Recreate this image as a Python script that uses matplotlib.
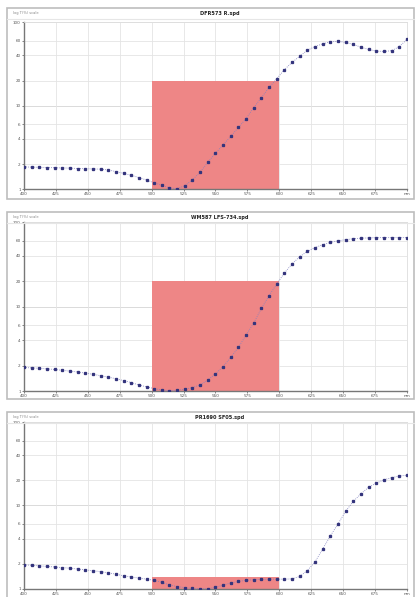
import matplotlib
matplotlib.use("Agg")
from matplotlib import pyplot as plt
from matplotlib.patches import Rectangle

# wavelength samples (nm)
wl = [400, 406, 412, 418, 424, 430, 436, 442, 448, 454,
      460, 466, 472, 478, 484, 490, 496, 502, 508, 514,
      520, 526, 532, 538, 544, 550, 556, 562, 568, 574,
      580, 586, 592, 598, 604, 610, 616, 622, 628, 634,
      640, 646, 652, 658, 664, 670, 676, 682, 688, 694, 700]

spd1 = [1.85, 1.84, 1.83, 1.82, 1.81, 1.80, 1.79, 1.77, 1.76, 1.75,
        1.74, 1.70, 1.63, 1.55, 1.47, 1.38, 1.29, 1.20, 1.11, 1.04,
        1.02, 1.10, 1.30, 1.60, 2.10, 2.70, 3.40, 4.30, 5.50, 7.00,
        9.50, 12.5, 16.5, 21.0, 27.0, 33.0, 39.0, 46.0, 51.0, 55.0,
        58.0, 59.0, 57.0, 54.0, 50.0, 47.0, 45.0, 44.5, 45.5, 51.0, 62.0]

spd2 = [1.90, 1.88, 1.86, 1.83, 1.80, 1.76, 1.72, 1.68, 1.63, 1.58,
        1.52, 1.46, 1.40, 1.33, 1.26, 1.18, 1.12, 1.07, 1.03, 1.01,
        1.02, 1.05, 1.10, 1.18, 1.35, 1.60, 1.95, 2.50, 3.30, 4.60,
        6.40, 9.50, 13.5, 18.5, 25.0, 32.0, 39.0, 45.0, 50.0, 54.0,
        57.5, 60.0, 62.0, 63.5, 64.5, 65.0, 65.5, 65.5, 65.5, 65.5, 65.5]

spd3 = [1.93, 1.91, 1.88, 1.85, 1.82, 1.79, 1.76, 1.72, 1.68, 1.64,
        1.60, 1.55, 1.49, 1.43, 1.38, 1.34, 1.30, 1.26, 1.19, 1.11,
        1.06, 1.03, 1.01, 1.00, 1.00, 1.04, 1.10, 1.17, 1.22, 1.26,
        1.28, 1.29, 1.30, 1.30, 1.30, 1.31, 1.40, 1.65, 2.10, 3.00,
        4.30, 6.00, 8.50, 11.2, 13.8, 16.5, 18.5, 20.3, 21.5, 22.5, 23.0]

titles = ["DFR573 R.spd", "WM587 LFS-734.spd", "PR1690 SF05.spd"]
band = [(500, 600, 20.0), (500, 600, 20.0), (500, 600, 1.38)]

xticks = [400, 425, 450, 475, 500, 525, 550, 575, 600, 625, 650, 675, 700]
xlabels = ["400", "425", "450", "475", "500", "525", "550", "575", "600",
           "625", "650", "675", "nm"]
yticks = [1, 2, 4, 6, 10, 20, 40, 60, 100]
ylabels = ["1", "2", "4", "6", "10", "20", "40", "60", "100"]

fig = plt.figure(figsize=(4.2, 5.97), dpi=100)
fig.patch.set_facecolor("white")

# (axes rect, frame rect, title y)
panels = [
    ([0.057, 0.683, 0.912, 0.280], [0.017, 0.667, 0.969, 0.320], 0.978),
    ([0.057, 0.345, 0.912, 0.283], [0.017, 0.332, 0.969, 0.313], 0.636),
    ([0.057, 0.014, 0.912, 0.279], [0.017, -0.02, 0.969, 0.330], 0.301),
]

for (rect, frame, ty), ys, title, (b0, b1, btop) in zip(panels, [spd1, spd2, spd3], titles, band):
    fig.add_artist(Rectangle(frame[:2], frame[2], frame[3], transform=fig.transFigure,
                             fill=False, ec="#bdbdbd", lw=1.2))
    fig.add_artist(plt.Line2D([frame[0], frame[0] + frame[2]], [ty - 0.009, ty - 0.009],
                              transform=fig.transFigure, color="#e6e6e6", lw=0.8))
    fig.text(0.524, ty, title, ha="center", va="center", fontsize=3.6,
             fontweight="bold", color="#222222")
    fig.text(0.032, ty, "log T(%) scale", ha="left", va="center", fontsize=2.6,
             color="#888888")

    ax = fig.add_axes(rect)
    ax.set_yscale("log")
    ax.set_xlim(400, 700)
    ax.set_ylim(1, 100)
    ax.fill_between([b0, b1], [1, 1], [btop, btop], color="#ee8686", lw=0, zorder=1)
    ax.plot(wl, ys, linestyle=(0, (1, 1.5)), color="#8080c0", lw=0.6,
            marker="s", markersize=1.4, markerfacecolor="#34347c",
            markeredgecolor="#34347c", zorder=3)

    ax.set_xticks(xticks)
    ax.set_xticklabels(xlabels)
    ax.set_yticks(yticks)
    ax.set_yticklabels(ylabels)
    ax.minorticks_off()
    ax.tick_params(labelsize=3.0, length=1.5, width=0.5, pad=0.8, colors="#555555")
    ax.grid(True, color="#e4e4e4", lw=0.6, zorder=0)
    ax.axhline(10, color="#b0b0b0", lw=0.7, zorder=0.5)
    for s in ["top", "right"]:
        ax.spines[s].set_color("#dddddd")
        ax.spines[s].set_linewidth(0.6)
    for s in ["left", "bottom"]:
        ax.spines[s].set_color("#777777")
        ax.spines[s].set_linewidth(1.0)
    ax.set_axisbelow(True)

fig.savefig("out.png", dpi=100)
